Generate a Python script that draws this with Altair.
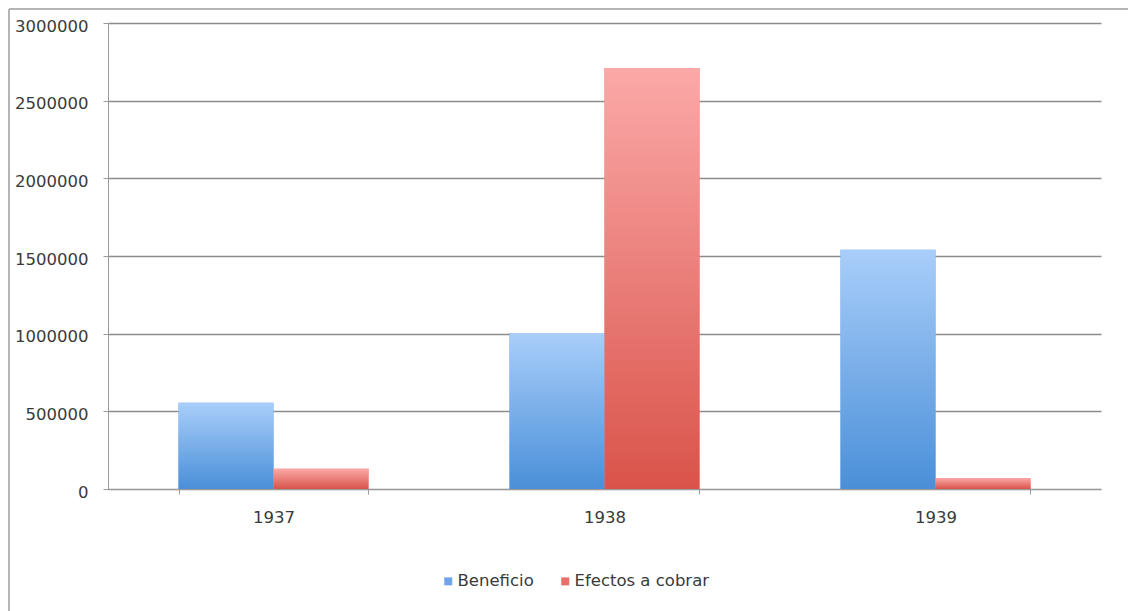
import altair as alt
import pandas as pd

years = ["1937", "1938", "1939"]
series = ["Beneficio", "Efectos a cobrar"]
beneficio = [555000, 1005000, 1540000]
efectos = [130000, 2710000, 70000]
y_ticks = [0, 500000, 1000000, 1500000, 2000000, 2500000, 3000000]

rows = []
for i, yr in enumerate(years):
    rows.append({"year": yr, "series": series[0], "value": beneficio[i]})
    rows.append({"year": yr, "series": series[1], "value": efectos[i]})
df = pd.DataFrame(rows)

FONT = "DejaVu Sans"
TXT = "#3a3a3a"

grad_blue = alt.LinearGradient(
    gradient="linear", x1=0, x2=0, y1=0, y2=1,
    stops=[alt.GradientStop(offset=0, color="#a9cefa"),
           alt.GradientStop(offset=1, color="#4a8fd8")])
grad_red = alt.LinearGradient(
    gradient="linear", x1=0, x2=0, y1=0, y2=1,
    stops=[alt.GradientStop(offset=0, color="#fba9a8"),
           alt.GradientStop(offset=1, color="#d9534a")])

x_enc = alt.X("year:N", sort=years, title=None,
              scale=alt.Scale(paddingInner=0.426, paddingOuter=0.213),
              axis=alt.Axis(labelAngle=0, tickBand="extent", ticks=True, tickSize=5,
                            domainColor="#9a9a9a", tickColor="#9a9a9a", grid=False,
                            labelPadding=15, labelFont=FONT, labelFontSize=16.5,
                            labelColor=TXT))
xoff_enc = alt.XOffset("series:N", sort=series,
                       scale=alt.Scale(domain=series, paddingInner=0, paddingOuter=0))
y_enc = alt.Y("value:Q", title=None,
              scale=alt.Scale(domain=[0, 3000000], nice=False),
              axis=alt.Axis(values=y_ticks, format="d", tickSize=5, labelPadding=15,
                            domainColor="#9a9a9a", tickColor="#9a9a9a",
                            gridColor="#8c8c8c", gridWidth=1.3, labelOffset=3,
                            labelFont=FONT, labelFontSize=16.5, labelColor=TXT))

base = alt.Chart(df)

legend_bars = base.mark_bar().encode(
    x=x_enc, xOffset=xoff_enc, y=y_enc,
    color=alt.Color("series:N", sort=series,
                    scale=alt.Scale(domain=series, range=["#6fa5e8", "#e8706c"]),
                    legend=alt.Legend(title=None, orient="none", direction="horizontal",
                                      legendX=332, legendY=550, padding=0,
                                      symbolType="square", symbolSize=64,
                                      symbolStrokeWidth=0, labelOffset=1,
                                      columnPadding=23, labelFont=FONT,
                                      labelFontSize=16.5, labelColor=TXT)))

grad_bars = base.mark_bar().encode(
    x=x_enc, xOffset=xoff_enc, y=y_enc,
    color=alt.condition("datum.series === 'Beneficio'",
                        alt.value(grad_blue), alt.value(grad_red)))

frame_data = alt.Data(values=[{"k": 0}])
frame_left = alt.Chart(frame_data).mark_rule(color="#b5b5b5", strokeWidth=2).encode(
    x=alt.value(-99), y=alt.value(-14), y2=alt.value(620))
frame_top = alt.Chart(frame_data).mark_rule(color="#b5b5b5", strokeWidth=2).encode(
    x=alt.value(-99), x2=alt.value(1040), y=alt.value(-14))

chart = alt.layer(legend_bars, grad_bars, frame_left, frame_top).properties(
    width=993, height=466,
    autosize=alt.AutoSizeParams(type="none"),
    padding={"left": 108, "top": 23, "right": 27, "bottom": 122},
    background="white",
).configure_view(strokeWidth=0)

chart.save("out.html", embed_options={"renderer": "svg", "actions": False})
